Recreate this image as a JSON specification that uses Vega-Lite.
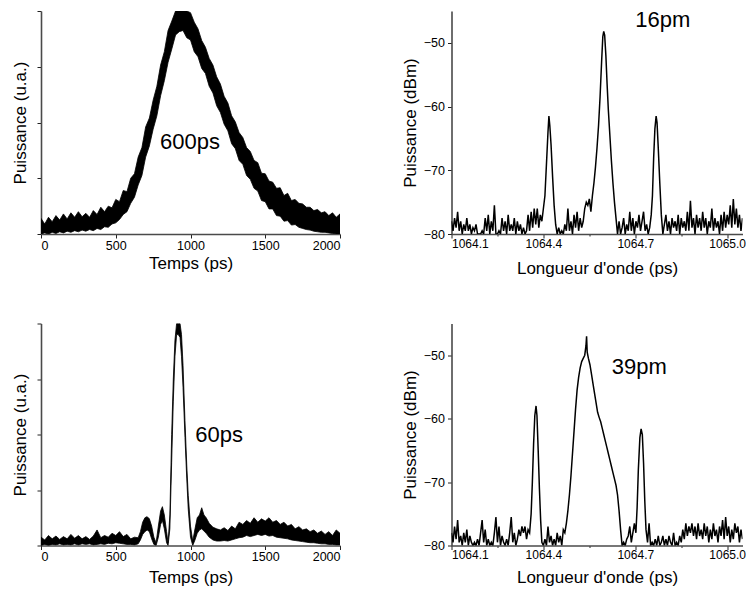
{
"$schema": "https://vega.github.io/schema/vega-lite/v6.json",
"padding": {"left": 11, "top": 8, "right": 0, "bottom": 0},
"background": "white",
"config": {
  "view": {"stroke": null},
  "font": "Liberation Sans",
  "axis": {"grid": false, "domainColor": "#4a4a4a", "domainWidth": 1.6, "tickColor": "#222222", "tickWidth": 1, "labelColor": "black", "labelFontSize": 12.5, "labelFont": "Liberation Sans", "titleFont": "Liberation Sans", "titleFontSize": 17, "titleFontWeight": "normal", "titleColor": "black"}
},
"datasets": {
  "pA": [
    {"t":0,"lo":0.00,"hi":0.28},{"t":25,"lo":0.02,"hi":0.18},{"t":50,"lo":0.00,"hi":0.30},{"t":75,"lo":0.03,"hi":0.22},
    {"t":100,"lo":0.01,"hi":0.33},{"t":125,"lo":0.04,"hi":0.25},{"t":150,"lo":0.02,"hi":0.36},{"t":175,"lo":0.05,"hi":0.27},
    {"t":200,"lo":0.03,"hi":0.38},{"t":225,"lo":0.06,"hi":0.30},{"t":250,"lo":0.04,"hi":0.40},{"t":275,"lo":0.07,"hi":0.31},
    {"t":300,"lo":0.05,"hi":0.37},{"t":325,"lo":0.08,"hi":0.30},{"t":350,"lo":0.06,"hi":0.42},{"t":375,"lo":0.10,"hi":0.35},
    {"t":400,"lo":0.08,"hi":0.48},{"t":425,"lo":0.13,"hi":0.40},{"t":450,"lo":0.12,"hi":0.50},{"t":475,"lo":0.18,"hi":0.47},
    {"t":500,"lo":0.20,"hi":0.62},{"t":525,"lo":0.26,"hi":0.58},{"t":550,"lo":0.35,"hi":0.78},{"t":575,"lo":0.40,"hi":0.76},
    {"t":600,"lo":0.55,"hi":1.00},{"t":625,"lo":0.66,"hi":1.08},{"t":650,"lo":0.88,"hi":1.38},{"t":675,"lo":1.05,"hi":1.55},
    {"t":700,"lo":1.38,"hi":1.92},{"t":725,"lo":1.58,"hi":2.08},{"t":750,"lo":1.88,"hi":2.40},{"t":775,"lo":2.12,"hi":2.65},
    {"t":800,"lo":2.48,"hi":3.03},{"t":825,"lo":2.75,"hi":3.27},{"t":850,"lo":3.08,"hi":3.65},{"t":875,"lo":3.32,"hi":3.82},
    {"t":900,"lo":3.57,"hi":4.00},{"t":925,"lo":3.63,"hi":4.00},{"t":950,"lo":3.65,"hi":4.00},{"t":975,"lo":3.52,"hi":4.00},
    {"t":1000,"lo":3.48,"hi":3.97},{"t":1025,"lo":3.27,"hi":3.80},{"t":1050,"lo":3.18,"hi":3.68},{"t":1075,"lo":2.97,"hi":3.47},
    {"t":1100,"lo":2.88,"hi":3.35},{"t":1125,"lo":2.65,"hi":3.15},{"t":1150,"lo":2.53,"hi":3.03},{"t":1175,"lo":2.30,"hi":2.82},
    {"t":1200,"lo":2.18,"hi":2.69},{"t":1225,"lo":1.97,"hi":2.47},{"t":1250,"lo":1.85,"hi":2.35},{"t":1275,"lo":1.62,"hi":2.12},
    {"t":1300,"lo":1.53,"hi":2.01},{"t":1325,"lo":1.32,"hi":1.82},{"t":1350,"lo":1.25,"hi":1.73},{"t":1375,"lo":1.05,"hi":1.55},
    {"t":1400,"lo":0.98,"hi":1.48},{"t":1425,"lo":0.82,"hi":1.32},{"t":1450,"lo":0.77,"hi":1.28},{"t":1475,"lo":0.60,"hi":1.09},
    {"t":1500,"lo":0.58,"hi":1.08},{"t":1525,"lo":0.45,"hi":0.95},{"t":1550,"lo":0.45,"hi":0.93},{"t":1575,"lo":0.33,"hi":0.82},
    {"t":1600,"lo":0.32,"hi":0.83},{"t":1625,"lo":0.23,"hi":0.69},{"t":1650,"lo":0.24,"hi":0.73},{"t":1675,"lo":0.16,"hi":0.60},
    {"t":1700,"lo":0.17,"hi":0.62},{"t":1725,"lo":0.12,"hi":0.55},{"t":1750,"lo":0.10,"hi":0.54},{"t":1775,"lo":0.08,"hi":0.48},
    {"t":1800,"lo":0.07,"hi":0.48},{"t":1825,"lo":0.05,"hi":0.42},{"t":1850,"lo":0.04,"hi":0.44},{"t":1875,"lo":0.03,"hi":0.38},
    {"t":1900,"lo":0.03,"hi":0.40},{"t":1925,"lo":0.02,"hi":0.33},{"t":1950,"lo":0.01,"hi":0.38},{"t":1975,"lo":0.00,"hi":0.30},
    {"t":2000,"lo":0.00,"hi":0.36}
  ],
  "pC": [
    {"t":0,"lo":0.00,"hi":0.15},{"t":25,"lo":0.02,"hi":0.10},{"t":50,"lo":0.00,"hi":0.18},{"t":75,"lo":0.02,"hi":0.12},
    {"t":100,"lo":0.01,"hi":0.17},{"t":125,"lo":0.03,"hi":0.11},{"t":150,"lo":0.01,"hi":0.16},{"t":175,"lo":0.02,"hi":0.12},
    {"t":200,"lo":0.01,"hi":0.20},{"t":225,"lo":0.03,"hi":0.13},{"t":250,"lo":0.01,"hi":0.18},{"t":275,"lo":0.03,"hi":0.12},
    {"t":300,"lo":0.02,"hi":0.16},{"t":325,"lo":0.03,"hi":0.11},{"t":350,"lo":0.01,"hi":0.17},{"t":375,"lo":0.02,"hi":0.28},
    {"t":400,"lo":0.03,"hi":0.14},{"t":425,"lo":0.02,"hi":0.18},{"t":450,"lo":0.04,"hi":0.15},{"t":475,"lo":0.03,"hi":0.22},
    {"t":500,"lo":0.05,"hi":0.18},{"t":525,"lo":0.04,"hi":0.25},{"t":550,"lo":0.03,"hi":0.16},{"t":575,"lo":0.02,"hi":0.20},
    {"t":600,"lo":0.02,"hi":0.12},{"t":625,"lo":0.01,"hi":0.15},{"t":650,"lo":0.03,"hi":0.14},{"t":665,"lo":0.10,"hi":0.25},
    {"t":680,"lo":0.20,"hi":0.42},{"t":695,"lo":0.25,"hi":0.50},{"t":710,"lo":0.28,"hi":0.52},{"t":725,"lo":0.25,"hi":0.48},
    {"t":740,"lo":0.12,"hi":0.35},{"t":755,"lo":0.02,"hi":0.15},{"t":770,"lo":0.00,"hi":0.05},{"t":785,"lo":0.15,"hi":0.35},
    {"t":800,"lo":0.38,"hi":0.62},{"t":812,"lo":0.45,"hi":0.70},{"t":825,"lo":0.30,"hi":0.55},{"t":840,"lo":0.05,"hi":0.25},
    {"t":850,"lo":0.00,"hi":0.05},{"t":862,"lo":0.30,"hi":0.55},{"t":874,"lo":1.50,"hi":2.00},{"t":885,"lo":2.60,"hi":3.00},
    {"t":896,"lo":3.40,"hi":3.70},{"t":907,"lo":3.80,"hi":4.00},{"t":918,"lo":3.80,"hi":4.00},{"t":930,"lo":3.75,"hi":4.00},
    {"t":940,"lo":3.40,"hi":3.80},{"t":950,"lo":2.85,"hi":3.25},{"t":963,"lo":1.95,"hi":2.25},{"t":975,"lo":1.20,"hi":1.45},
    {"t":985,"lo":0.65,"hi":0.90},{"t":1000,"lo":0.15,"hi":0.35},{"t":1015,"lo":0.00,"hi":0.08},{"t":1030,"lo":0.10,"hi":0.30},
    {"t":1045,"lo":0.22,"hi":0.50},{"t":1060,"lo":0.28,"hi":0.55},{"t":1075,"lo":0.30,"hi":0.68},{"t":1090,"lo":0.26,"hi":0.55},
    {"t":1105,"lo":0.22,"hi":0.50},{"t":1125,"lo":0.15,"hi":0.40},{"t":1150,"lo":0.10,"hi":0.33},{"t":1175,"lo":0.08,"hi":0.30},
    {"t":1200,"lo":0.08,"hi":0.28},{"t":1225,"lo":0.09,"hi":0.32},{"t":1250,"lo":0.08,"hi":0.27},{"t":1275,"lo":0.10,"hi":0.35},
    {"t":1300,"lo":0.12,"hi":0.30},{"t":1325,"lo":0.14,"hi":0.42},{"t":1350,"lo":0.15,"hi":0.38},{"t":1375,"lo":0.18,"hi":0.45},
    {"t":1400,"lo":0.16,"hi":0.40},{"t":1425,"lo":0.18,"hi":0.50},{"t":1450,"lo":0.20,"hi":0.42},{"t":1475,"lo":0.18,"hi":0.48},
    {"t":1500,"lo":0.20,"hi":0.44},{"t":1525,"lo":0.17,"hi":0.50},{"t":1550,"lo":0.18,"hi":0.42},{"t":1575,"lo":0.15,"hi":0.45},
    {"t":1600,"lo":0.14,"hi":0.38},{"t":1625,"lo":0.13,"hi":0.42},{"t":1650,"lo":0.12,"hi":0.35},{"t":1675,"lo":0.10,"hi":0.38},
    {"t":1700,"lo":0.09,"hi":0.30},{"t":1725,"lo":0.08,"hi":0.34},{"t":1750,"lo":0.07,"hi":0.28},{"t":1775,"lo":0.06,"hi":0.30},
    {"t":1800,"lo":0.05,"hi":0.25},{"t":1825,"lo":0.05,"hi":0.28},{"t":1850,"lo":0.04,"hi":0.22},{"t":1875,"lo":0.03,"hi":0.26},
    {"t":1900,"lo":0.03,"hi":0.20},{"t":1925,"lo":0.02,"hi":0.25},{"t":1950,"lo":0.02,"hi":0.18},{"t":1975,"lo":0.01,"hi":0.28},
    {"t":2000,"lo":0.01,"hi":0.22}
  ],
  "pB": [
    {"w":1064.100,"p":-78},{"w":1064.105,"p":-79.5},{"w":1064.110,"p":-77.5},{"w":1064.115,"p":-79},{"w":1064.120,"p":-76.5},
    {"w":1064.125,"p":-79.5},{"w":1064.130,"p":-78},{"w":1064.135,"p":-80},{"w":1064.140,"p":-78.5},{"w":1064.145,"p":-79.5},
    {"w":1064.150,"p":-77.5},{"w":1064.155,"p":-79.5},{"w":1064.160,"p":-78.5},{"w":1064.165,"p":-80},{"w":1064.170,"p":-79},
    {"w":1064.175,"p":-79.5},{"w":1064.180,"p":-78.5},{"w":1064.185,"p":-80},{"w":1064.190,"p":-80},{"w":1064.195,"p":-80},
    {"w":1064.200,"p":-79.5},{"w":1064.205,"p":-80},{"w":1064.210,"p":-77.5},{"w":1064.215,"p":-79.5},{"w":1064.220,"p":-77},
    {"w":1064.225,"p":-80},{"w":1064.230,"p":-78},{"w":1064.235,"p":-79.5},{"w":1064.240,"p":-75.5},{"w":1064.245,"p":-80},
    {"w":1064.250,"p":-80},{"w":1064.255,"p":-79.5},{"w":1064.260,"p":-80},{"w":1064.265,"p":-77.5},{"w":1064.270,"p":-79.5},
    {"w":1064.275,"p":-78},{"w":1064.280,"p":-80},{"w":1064.285,"p":-77},{"w":1064.290,"p":-79.5},{"w":1064.295,"p":-78.5},
    {"w":1064.300,"p":-79.5},{"w":1064.305,"p":-77.5},{"w":1064.310,"p":-80},{"w":1064.315,"p":-78},{"w":1064.320,"p":-79.5},
    {"w":1064.325,"p":-78.5},{"w":1064.330,"p":-80},{"w":1064.335,"p":-79},{"w":1064.340,"p":-80},{"w":1064.345,"p":-79.5},
    {"w":1064.350,"p":-77},{"w":1064.355,"p":-79.5},{"w":1064.360,"p":-76.5},{"w":1064.365,"p":-79},{"w":1064.370,"p":-76},
    {"w":1064.375,"p":-78.5},{"w":1064.380,"p":-76},{"w":1064.385,"p":-79},{"w":1064.390,"p":-77},{"w":1064.395,"p":-78},
    {"w":1064.400,"p":-76},{"w":1064.405,"p":-74},{"w":1064.410,"p":-69},{"w":1064.415,"p":-64},{"w":1064.418,"p":-61.5},
    {"w":1064.421,"p":-63},{"w":1064.425,"p":-66},{"w":1064.430,"p":-71},{"w":1064.435,"p":-75.5},{"w":1064.440,"p":-78.5},
    {"w":1064.445,"p":-80},{"w":1064.450,"p":-79},{"w":1064.455,"p":-80},{"w":1064.460,"p":-79.5},{"w":1064.465,"p":-80},
    {"w":1064.470,"p":-78.5},{"w":1064.475,"p":-79.5},{"w":1064.480,"p":-76},{"w":1064.485,"p":-79.5},{"w":1064.490,"p":-78},
    {"w":1064.495,"p":-80},{"w":1064.500,"p":-77},{"w":1064.505,"p":-79},{"w":1064.510,"p":-76.5},{"w":1064.515,"p":-79.5},
    {"w":1064.520,"p":-77.5},{"w":1064.525,"p":-79},{"w":1064.530,"p":-78},{"w":1064.535,"p":-76},{"w":1064.540,"p":-75},
    {"w":1064.545,"p":-75.5},{"w":1064.550,"p":-74.5},{"w":1064.555,"p":-76.5},{"w":1064.560,"p":-74},{"w":1064.565,"p":-72},
    {"w":1064.570,"p":-69.5},{"w":1064.575,"p":-66.5},{"w":1064.580,"p":-63},{"w":1064.585,"p":-58.5},{"w":1064.590,"p":-53},
    {"w":1064.594,"p":-49},{"w":1064.597,"p":-48.2},{"w":1064.600,"p":-48.8},{"w":1064.604,"p":-52},{"w":1064.608,"p":-56.5},
    {"w":1064.612,"p":-60.5},{"w":1064.617,"p":-64.5},{"w":1064.622,"p":-68.5},{"w":1064.627,"p":-72},{"w":1064.632,"p":-75},
    {"w":1064.637,"p":-77.5},{"w":1064.642,"p":-80},{"w":1064.647,"p":-78},{"w":1064.652,"p":-80},{"w":1064.657,"p":-79},
    {"w":1064.662,"p":-77.5},{"w":1064.667,"p":-80},{"w":1064.672,"p":-78.5},{"w":1064.677,"p":-79.5},{"w":1064.682,"p":-76.5},
    {"w":1064.687,"p":-79.5},{"w":1064.692,"p":-77.5},{"w":1064.697,"p":-80},{"w":1064.702,"p":-78},{"w":1064.707,"p":-79},
    {"w":1064.712,"p":-77},{"w":1064.717,"p":-79.5},{"w":1064.722,"p":-78},{"w":1064.727,"p":-76.5},{"w":1064.732,"p":-79.5},
    {"w":1064.737,"p":-78.5},{"w":1064.742,"p":-80},{"w":1064.747,"p":-79},{"w":1064.752,"p":-77},{"w":1064.756,"p":-74},
    {"w":1064.760,"p":-68},{"w":1064.764,"p":-63.5},{"w":1064.768,"p":-61.5},{"w":1064.771,"p":-62.5},{"w":1064.775,"p":-66.5},
    {"w":1064.780,"p":-72},{"w":1064.785,"p":-77},{"w":1064.790,"p":-80},{"w":1064.795,"p":-78.5},{"w":1064.800,"p":-77},
    {"w":1064.805,"p":-79.5},{"w":1064.810,"p":-78},{"w":1064.815,"p":-80},{"w":1064.820,"p":-77.5},{"w":1064.825,"p":-79},
    {"w":1064.830,"p":-78},{"w":1064.835,"p":-79.5},{"w":1064.840,"p":-77},{"w":1064.845,"p":-80},{"w":1064.850,"p":-77.5},
    {"w":1064.855,"p":-79},{"w":1064.860,"p":-78},{"w":1064.865,"p":-79.5},{"w":1064.870,"p":-76.5},{"w":1064.875,"p":-79.5},
    {"w":1064.880,"p":-74.8},{"w":1064.885,"p":-79},{"w":1064.890,"p":-77.5},{"w":1064.895,"p":-80},{"w":1064.900,"p":-77},
    {"w":1064.905,"p":-79},{"w":1064.910,"p":-77.5},{"w":1064.915,"p":-79.5},{"w":1064.920,"p":-76.5},{"w":1064.925,"p":-79},
    {"w":1064.930,"p":-77.5},{"w":1064.935,"p":-80},{"w":1064.940,"p":-78},{"w":1064.945,"p":-79},{"w":1064.950,"p":-76},
    {"w":1064.955,"p":-79.5},{"w":1064.960,"p":-77.5},{"w":1064.965,"p":-79},{"w":1064.970,"p":-78},{"w":1064.975,"p":-80},
    {"w":1064.980,"p":-77},{"w":1064.985,"p":-79.5},{"w":1064.990,"p":-76.5},{"w":1064.995,"p":-79},{"w":1065.000,"p":-77},
    {"w":1065.005,"p":-78.5},{"w":1065.010,"p":-75.5},{"w":1065.015,"p":-79},{"w":1065.020,"p":-74.5},{"w":1065.025,"p":-78.5},
    {"w":1065.030,"p":-76},{"w":1065.035,"p":-79},{"w":1065.040,"p":-77},{"w":1065.045,"p":-79.5},{"w":1065.050,"p":-77.5}
  ],
  "pD": [
    {"w":1064.100,"p":-78},{"w":1064.105,"p":-79.5},{"w":1064.110,"p":-77},{"w":1064.115,"p":-79},{"w":1064.120,"p":-76},
    {"w":1064.125,"p":-79.5},{"w":1064.130,"p":-78.5},{"w":1064.135,"p":-80},{"w":1064.140,"p":-78},{"w":1064.145,"p":-79.5},
    {"w":1064.150,"p":-77.5},{"w":1064.155,"p":-80},{"w":1064.160,"p":-78.5},{"w":1064.165,"p":-79.5},{"w":1064.170,"p":-80},
    {"w":1064.175,"p":-79.5},{"w":1064.180,"p":-80},{"w":1064.185,"p":-79},{"w":1064.190,"p":-80},{"w":1064.195,"p":-78},
    {"w":1064.200,"p":-76},{"w":1064.205,"p":-79.5},{"w":1064.210,"p":-77.5},{"w":1064.215,"p":-80},{"w":1064.220,"p":-79},
    {"w":1064.225,"p":-80},{"w":1064.230,"p":-79.5},{"w":1064.235,"p":-80},{"w":1064.240,"p":-78},{"w":1064.245,"p":-75.5},
    {"w":1064.250,"p":-79.5},{"w":1064.255,"p":-77},{"w":1064.260,"p":-80},{"w":1064.265,"p":-78.5},{"w":1064.270,"p":-79.5},
    {"w":1064.275,"p":-80},{"w":1064.280,"p":-79},{"w":1064.285,"p":-80},{"w":1064.290,"p":-78},{"w":1064.295,"p":-75.5},
    {"w":1064.300,"p":-79.5},{"w":1064.305,"p":-78},{"w":1064.310,"p":-80},{"w":1064.315,"p":-79},{"w":1064.320,"p":-77.5},
    {"w":1064.325,"p":-78.5},{"w":1064.330,"p":-77},{"w":1064.335,"p":-78},{"w":1064.340,"p":-77},{"w":1064.345,"p":-79},
    {"w":1064.350,"p":-77.5},{"w":1064.355,"p":-78},{"w":1064.360,"p":-75},{"w":1064.364,"p":-70},{"w":1064.368,"p":-64},
    {"w":1064.372,"p":-59.5},{"w":1064.376,"p":-58},{"w":1064.379,"p":-59.5},{"w":1064.383,"p":-65},{"w":1064.387,"p":-71},
    {"w":1064.391,"p":-76},{"w":1064.395,"p":-79.5},{"w":1064.400,"p":-80},{"w":1064.405,"p":-79},{"w":1064.410,"p":-80},
    {"w":1064.415,"p":-77},{"w":1064.420,"p":-79.5},{"w":1064.425,"p":-78.5},{"w":1064.430,"p":-80},{"w":1064.435,"p":-79},
    {"w":1064.440,"p":-80},{"w":1064.445,"p":-78},{"w":1064.450,"p":-79.5},{"w":1064.455,"p":-78.5},{"w":1064.460,"p":-80},
    {"w":1064.465,"p":-77.5},{"w":1064.470,"p":-78},{"w":1064.475,"p":-76.5},{"w":1064.480,"p":-74.5},{"w":1064.485,"p":-72},
    {"w":1064.490,"p":-69},{"w":1064.495,"p":-65.5},{"w":1064.500,"p":-62},{"w":1064.505,"p":-58.5},{"w":1064.510,"p":-55.5},
    {"w":1064.515,"p":-53.5},{"w":1064.520,"p":-52},{"w":1064.525,"p":-51},{"w":1064.530,"p":-50.5},{"w":1064.535,"p":-50},
    {"w":1064.539,"p":-48.5},{"w":1064.541,"p":-47},{"w":1064.543,"p":-49.5},{"w":1064.547,"p":-50.5},{"w":1064.552,"p":-51.5},
    {"w":1064.557,"p":-53},{"w":1064.562,"p":-54.5},{"w":1064.567,"p":-56},{"w":1064.572,"p":-57.5},{"w":1064.577,"p":-59},
    {"w":1064.582,"p":-59.8},{"w":1064.587,"p":-60.5},{"w":1064.592,"p":-61.5},{"w":1064.597,"p":-62.5},{"w":1064.602,"p":-63.5},
    {"w":1064.607,"p":-64.5},{"w":1064.612,"p":-65.5},{"w":1064.617,"p":-66.5},{"w":1064.622,"p":-67.5},{"w":1064.627,"p":-68.5},
    {"w":1064.632,"p":-69.5},{"w":1064.637,"p":-70.5},{"w":1064.642,"p":-72},{"w":1064.647,"p":-74.5},{"w":1064.652,"p":-77.5},
    {"w":1064.657,"p":-80},{"w":1064.662,"p":-79.5},{"w":1064.667,"p":-80},{"w":1064.672,"p":-79},{"w":1064.677,"p":-78.5},
    {"w":1064.682,"p":-77},{"w":1064.687,"p":-79.5},{"w":1064.692,"p":-78},{"w":1064.697,"p":-76.5},{"w":1064.702,"p":-78},
    {"w":1064.706,"p":-74},{"w":1064.710,"p":-68},{"w":1064.715,"p":-63},{"w":1064.719,"p":-61.6},{"w":1064.723,"p":-62.5},
    {"w":1064.727,"p":-67},{"w":1064.731,"p":-73},{"w":1064.735,"p":-77.5},{"w":1064.740,"p":-79.5},{"w":1064.745,"p":-76.5},
    {"w":1064.750,"p":-80},{"w":1064.755,"p":-79.5},{"w":1064.760,"p":-80},{"w":1064.765,"p":-79},{"w":1064.770,"p":-80},
    {"w":1064.775,"p":-78.5},{"w":1064.780,"p":-80},{"w":1064.785,"p":-79.5},{"w":1064.790,"p":-78.5},{"w":1064.795,"p":-80},
    {"w":1064.800,"p":-79},{"w":1064.805,"p":-80},{"w":1064.810,"p":-78.5},{"w":1064.815,"p":-79.5},{"w":1064.820,"p":-80},
    {"w":1064.825,"p":-78},{"w":1064.830,"p":-80},{"w":1064.835,"p":-79.5},{"w":1064.840,"p":-80},{"w":1064.845,"p":-78.5},
    {"w":1064.850,"p":-79.5},{"w":1064.855,"p":-77.5},{"w":1064.860,"p":-79},{"w":1064.865,"p":-76.5},{"w":1064.870,"p":-78.5},
    {"w":1064.875,"p":-77},{"w":1064.880,"p":-78},{"w":1064.885,"p":-76.5},{"w":1064.890,"p":-78.5},{"w":1064.895,"p":-77},
    {"w":1064.900,"p":-79},{"w":1064.905,"p":-76.5},{"w":1064.910,"p":-78.5},{"w":1064.915,"p":-77.5},{"w":1064.920,"p":-79},
    {"w":1064.925,"p":-76.5},{"w":1064.930,"p":-78.5},{"w":1064.935,"p":-77},{"w":1064.940,"p":-79.5},{"w":1064.945,"p":-77.5},
    {"w":1064.950,"p":-79},{"w":1064.955,"p":-76.5},{"w":1064.960,"p":-78.5},{"w":1064.965,"p":-77.5},{"w":1064.970,"p":-79.5},
    {"w":1064.975,"p":-77},{"w":1064.980,"p":-78.5},{"w":1064.985,"p":-76},{"w":1064.990,"p":-79},{"w":1064.995,"p":-75.5},
    {"w":1065.000,"p":-78.5},{"w":1065.005,"p":-77},{"w":1065.010,"p":-79.5},{"w":1065.015,"p":-77.5},{"w":1065.020,"p":-79},
    {"w":1065.025,"p":-76.5},{"w":1065.030,"p":-78},{"w":1065.035,"p":-77},{"w":1065.040,"p":-79.5},{"w":1065.045,"p":-77.5},
    {"w":1065.050,"p":-79}
  ]
},
"columns": 2,
"bounds": "flush",
"spacing": {"row": 89.5, "column": 111.5},
"concat": [
  {
    "width": 299, "height": 223,
    "layer": [
      {"data": {"name": "pA"},
       "mark": {"type": "area", "color": "black", "stroke": "black", "strokeWidth": 0.8, "clip": true},
       "encoding": {
         "x": {"field": "t", "type": "quantitative", "scale": {"domain": [0, 2000], "nice": false},
               "axis": {"title": "Temps (ps)", "values": [0,250,500,750,1000,1250,1500,1750,2000], "format": "d",
                        "labelExpr": "datum.value % 500 == 0 ? datum.label : ''", "tickSize": {"condition": {"test": "datum.value % 500 == 0", "value": 4}, "value": 2}, "labelPadding": 1, "titlePadding": 3.5}},
         "y": {"field": "hi", "type": "quantitative", "scale": {"domain": [0, 4], "nice": false},
               "axis": {"title": "Puissance (u.a.)", "values": [0,0.5,1,1.5,2,2.5,3,3.5,4], "labels": false, "tickSize": {"condition": {"test": "datum.value % 1 == 0", "value": 4}, "value": 2}, "titlePadding": 7}},
         "y2": {"field": "lo"}
       }},
      {"data": {"values": [{"t": 997, "hi": 1.65, "label": "600ps"}]},
       "mark": {"type": "text", "fontSize": 22, "font": "Liberation Sans", "color": "black"},
       "encoding": {"x": {"field": "t", "type": "quantitative"}, "y": {"field": "hi", "type": "quantitative"}, "text": {"field": "label"}}}
    ]
  },
  {
    "width": 291, "height": 223,
    "layer": [
      {"data": {"name": "pB"},
       "mark": {"type": "line", "color": "black", "strokeWidth": 1.5, "clip": true},
       "encoding": {
         "x": {"field": "w", "type": "quantitative", "scale": {"domain": [1064.1, 1065.05], "nice": false, "zero": false},
               "axis": {"title": "Longueur d'onde (ps)", "values": [1064.1,1064.25,1064.4,1064.55,1064.7,1064.85,1065.0],
                        "labelExpr": "indexof(['1064.1','1064.4','1064.7','1065.0'], format(datum.value, '.1f')) >= 0 && abs(datum.value - 1064.25) > 0.01 && abs(datum.value - 1064.55) > 0.01 && abs(datum.value - 1064.85) > 0.01 ? format(datum.value, '.1f') : ''",
                        "labelFontSize": 12,
                        "tickSize": {"condition": {"test": "abs(datum.value - 1064.25) < 0.01 || abs(datum.value - 1064.55) < 0.01 || abs(datum.value - 1064.85) < 0.01", "value": 2}, "value": 4}, "labelPadding": 0, "titlePadding": 11.5}},
         "y": {"field": "p", "type": "quantitative", "scale": {"domain": [-80, -45], "nice": false, "zero": false},
               "axis": {"title": "Puissance (dBm)", "values": [-80,-75,-70,-65,-60,-55,-50,-45],
                        "labelExpr": "datum.value % 10 == 0 ? datum.label : ''", "tickSize": {"condition": {"test": "datum.value % 10 == 0", "value": 4}, "value": 2}, "labelPadding": 3, "titlePadding": 4}}
       }},
      {"data": {"values": [{"w": 1064.79, "p": -46.4, "label": "16pm"}]},
       "mark": {"type": "text", "fontSize": 22, "font": "Liberation Sans", "color": "black"},
       "encoding": {"x": {"field": "w", "type": "quantitative"}, "y": {"field": "p", "type": "quantitative"}, "text": {"field": "label"}}}
    ]
  },
  {
    "width": 299, "height": 222,
    "layer": [
      {"data": {"name": "pC"},
       "mark": {"type": "area", "color": "black", "stroke": "black", "strokeWidth": 0.8, "clip": true},
       "encoding": {
         "x": {"field": "t", "type": "quantitative", "scale": {"domain": [0, 2000], "nice": false},
               "axis": {"title": "Temps (ps)", "values": [0,250,500,750,1000,1250,1500,1750,2000], "format": "d",
                        "labelExpr": "datum.value % 500 == 0 ? datum.label : ''", "tickSize": {"condition": {"test": "datum.value % 500 == 0", "value": 4}, "value": 2}, "labelPadding": 1, "titlePadding": 6}},
         "y": {"field": "hi", "type": "quantitative", "scale": {"domain": [0, 4], "nice": false},
               "axis": {"title": "Puissance (u.a.)", "values": [0,0.5,1,1.5,2,2.5,3,3.5,4], "labels": false, "tickSize": {"condition": {"test": "datum.value % 1 == 0", "value": 4}, "value": 2}, "titlePadding": 7}},
         "y2": {"field": "lo"}
       }},
      {"data": {"values": [{"t": 1191, "hi": 2.0, "label": "60ps"}]},
       "mark": {"type": "text", "fontSize": 22, "font": "Liberation Sans", "color": "black"},
       "encoding": {"x": {"field": "t", "type": "quantitative"}, "y": {"field": "hi", "type": "quantitative"}, "text": {"field": "label"}}}
    ]
  },
  {
    "width": 291, "height": 222,
    "layer": [
      {"data": {"name": "pD"},
       "mark": {"type": "line", "color": "black", "strokeWidth": 1.5, "clip": true},
       "encoding": {
         "x": {"field": "w", "type": "quantitative", "scale": {"domain": [1064.1, 1065.05], "nice": false, "zero": false},
               "axis": {"title": "Longueur d'onde (ps)", "values": [1064.1,1064.25,1064.4,1064.55,1064.7,1064.85,1065.0],
                        "labelExpr": "indexof(['1064.1','1064.4','1064.7','1065.0'], format(datum.value, '.1f')) >= 0 && abs(datum.value - 1064.25) > 0.01 && abs(datum.value - 1064.55) > 0.01 && abs(datum.value - 1064.85) > 0.01 ? format(datum.value, '.1f') : ''",
                        "labelFontSize": 12,
                        "tickSize": {"condition": {"test": "abs(datum.value - 1064.25) < 0.01 || abs(datum.value - 1064.55) < 0.01 || abs(datum.value - 1064.85) < 0.01", "value": 2}, "value": 4}, "labelPadding": 0, "titlePadding": 9}},
         "y": {"field": "p", "type": "quantitative", "scale": {"domain": [-80, -45], "nice": false, "zero": false},
               "axis": {"title": "Puissance (dBm)", "values": [-80,-75,-70,-65,-60,-55,-50,-45],
                        "labelExpr": "datum.value % 10 == 0 ? datum.label : ''", "tickSize": {"condition": {"test": "datum.value % 10 == 0", "value": 4}, "value": 2}, "labelPadding": 3, "titlePadding": 4}}
       }},
      {"data": {"values": [{"w": 1064.713, "p": -51.8, "label": "39pm"}]},
       "mark": {"type": "text", "fontSize": 22, "font": "Liberation Sans", "color": "black"},
       "encoding": {"x": {"field": "w", "type": "quantitative"}, "y": {"field": "p", "type": "quantitative"}, "text": {"field": "label"}}}
    ]
  }
]
}
